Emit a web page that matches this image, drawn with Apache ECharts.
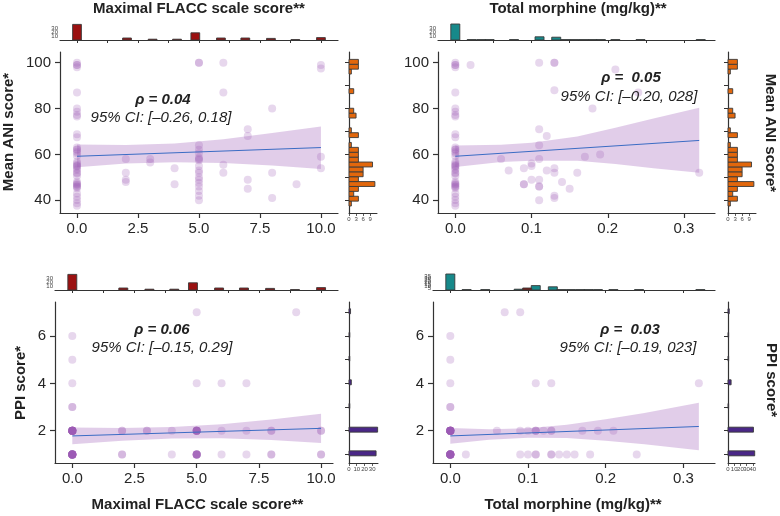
<!DOCTYPE html>
<html><head><meta charset="utf-8">
<script src="https://cdn.jsdelivr.net/npm/echarts@6/dist/echarts.min.js"></script>
<style>html,body{margin:0;padding:0;background:#fff}#c{width:780px;height:516px}</style>
</head><body><div id="c"></div>
<script>
// ================= DATA =================
// ANI values of patients with x = 0 (FLACC 0 / morphine 0)
const aniAtZero = [100,99,99,98,87,80,78.6,77.2,76.5,68.8,67.5,63,62.2,62,61.2,60.5,59.3,56.8,56.1,55.4,55,54.7,53.9,53.2,52,51.7,50.6,48.1,47.4,47,46.7,46,45.9,45.2,43,41.6,40.1,38.7,37.6];
const flaccAniOther = [[2,58],[2,52],[2,49],[2,48],[3,58],[3,56.5],[4,54],[4,47],
  [5,100],[5,100],[5,64],[5,62],[5,60.5],[5,58.5],[5,58],[5,57.5],[5,55],[5,53],[5,52],[5,50],[5,49],[5,47.5],[5,46],[5,44],[5,42],[5,40],
  [6,100],[6,87],[6,55.5],[6,52],[7,71],[7,68],[7,49],[7,45],[8,80],[8,52],[8,41],[9,47],[10,99],[10,97.5],[10,59],[10,54]];
const morphAniOther = [[0.02,99],[0.11,100],[0.13,100],[0.13,100],[0.21,97],[0.13,88],[0.24,87],[0.18,80],[0.11,71],[0.12,68],[0.11,64],
  [0.06,58],[0.11,58],[0.17,59],[0.19,60],[0.07,53],[0.09,54],[0.10,56],[0.10,55],[0.12,53],[0.13,54],[0.13,52],[0.16,52],
  [0.10,49],[0.11,49],[0.09,47],[0.09,47],[0.11,46],[0.11,46],[0.14,48],[0.15,45],[0.11,40],[0.13,42],[0.13,41],[0.32,52]];
// PPI values of patients with x = 0
const ppiAtZero = [6,5,4,3,3,2,2,2,2,2,2,2,2,2,2,2,2,2,2,2,2,2,1,1,1,1,1,1,1,1,1,1,1,1,1,1,1,1,1];
const flaccPpiOther = [[2,2],[2,2],[2,1],[2,1],[3,2],[3,2],[4,2],[4,1],[5,7],[5,4],
  [5,2],[5,2],[5,2],[5,2],[5,2],[5,2],[5,2],[5,2],[5,1],[5,1],[5,1],[5,1],[5,1],[5,1],[5,1],[5,1],
  [6,4],[6,2],[6,1],[7,4],[7,2],[7,1],[8,2],[8,2],[8,1],[8,1],[9,7],[10,2],[10,2],[10,1],[10,1]];
const morphPpiOther = [[0.02,1],[0.06,2],[0.07,7],[0.09,7],[0.09,2],[0.09,1],[0.10,2],[0.10,1],
  [0.11,4],[0.11,2],[0.11,2],[0.11,2],[0.11,1],[0.11,1],[0.12,2],[0.13,4],[0.13,2],[0.13,2],[0.13,1],[0.13,1],
  [0.14,1],[0.15,1],[0.16,1],[0.17,2],[0.18,1],[0.19,2],[0.21,2],[0.24,1],[0.32,4]];

// regression lines and 95% CI bands
const regFlaccAni = [[0,59.2],[10,63.0]];
const bandFlaccAniX  = [0,2,4,6,8,10];
const bandFlaccAniLo = [54.4,56.0,56.6,56.3,55.2,53.6];
const bandFlaccAniHi = [64.3,64.1,64.8,66.6,69.3,72.2];
const regMorphAni = [[0,59.2],[0.32,66.1]];
const bandMorphAniX  = [0,0.06,0.1,0.16,0.21,0.26,0.32];
const bandMorphAniLo = [54.5,56.7,57.3,57.3,55.8,54.0,52.0];
const bandMorphAniHi = [63.9,64.2,65.1,67.8,71.6,75.7,80.4];
const regFlaccPpi = [[0,1.78],[10,2.1]];
const bandFlaccPpiX  = [0,2,4,6,8,10];
const bandFlaccPpiLo = [1.43,1.58,1.67,1.68,1.61,1.48];
const bandFlaccPpiHi = [2.14,2.11,2.16,2.27,2.47,2.72];
const regMorphPpi = [[0,1.78],[0.32,2.18]];
const bandMorphPpiX  = [0,0.05,0.1,0.15,0.2,0.25,0.32];
const bandMorphPpiLo = [1.45,1.62,1.70,1.69,1.58,1.43,1.18];
const bandMorphPpiHi = [2.11,2.06,2.10,2.25,2.48,2.75,3.18];

// marginal histograms
const flaccHistCenters = [0,2.05,3.1,4.1,4.85,5.9,6.9,7.95,8.95,10];
const flaccHistCounts  = [39,5,2,2,18,5,5,4,1,6];
const morphHistCentersTop = [0,0.0215,0.034,0.045,0.077,0.1105,0.1324,0.1442,0.156,0.168,0.18,0.191,0.21,0.243,0.322];
const morphHistCountsTop  = [40,1,1,1,1,8,7,1,1,1,1,1,1,1,1];
const morphHistCentersBot = [0,0.021,0.045,0.088,0.11,0.132,0.143,0.155,0.167,0.178,0.19,0.21,0.243,0.322];
const morphHistCountsBot  = [40,1,1,2,11,8,1,1,1,1,1,1,1,1];
const morphHistRedCenters = [0.099];
const morphHistRedCounts  = [5];
const aniBinStart = 37.5, aniBinWidth = 2.1317;
const aniHistCounts = [1,4,2,4,11,4,6,6,10,4,4,4,1,0,4,1,0,0,3,2,0,0,0,2,0,0,0,1,4,4];
const ppiHistValues = [1,2,3,4,5,6,7];
const ppiHistCountsLeft  = [35,37,1,3,1,1,2];
const ppiHistCountsRight = [43,41,1,5,1,1,2];

// tick labels
const flaccTicks = [0,2.5,5,7.5,10];
const flaccHistTicks = [0,1.25,2.5,3.75,5,6.25,7.5,8.75,10];
const morphTicks = [0,0.1,0.2,0.3];
const morphHistTicks = [0,0.05,0.1,0.15,0.2,0.25,0.3];
const aniTicks = [40,60,80,100];
const aniMinorTicks = [40,50,60,70,80,90,100];
const ppiTicks = [2,4,6];
const ppiMinorTicks = [1,2,3,4,5,6,7];

// texts
const titleFlacc = 'Maximal FLACC scale score**';
const titleMorph = 'Total morphine (mg/kg)**';
const nameAni = 'Mean ANI score*';
const namePpi = 'PPI score*';
const rhoTexts = ['ρ = 0.04','ρ =  0.05','ρ = 0.06','ρ =  0.03'];
const ciTexts = ['95% CI: [–0.26, 0.18]','95% CI: [–0.20, 028]','95% CI: [–0.15, 0.29]','95% CI: [–0.19, 023]'];

// ================= CHART =================
const FONT = '"Liberation Sans", Arial, Helvetica, sans-serif';
const AX = '#333';
const PT = 'rgba(155,89,182,0.3)';
const BAND = 'rgba(155,89,182,0.3)';
const grids = [], xAxes = [], yAxes = [], series = [];

function grid(l,t,w,h){ grids.push({left:l,top:t,width:w,height:h,containLabel:false,outerBoundsMode:'none'}); return grids.length-1; }

function mainPanel(rect, xr, xt, xdec, yr, yt, pts, reg, bx, lo, hi){
  const gi = grid(...rect);
  xAxes.push({gridIndex:gi,type:'value',min:xr[0],max:xr[1],splitLine:{show:false},
    axisLine:{show:true,onZero:false,lineStyle:{color:AX,width:1.2}},
    axisTick:{show:true,length:5,customValues:xt,lineStyle:{color:AX,width:1.2}},
    axisLabel:{customValues:xt,formatter:v=>Number(v).toFixed(xdec),fontSize:15,color:'#262626',fontFamily:FONT,margin:8}});
  yAxes.push({gridIndex:gi,type:'value',min:yr[0],max:yr[1],splitLine:{show:false},
    axisLine:{show:true,onZero:false,lineStyle:{color:AX,width:1.2}},
    axisTick:{show:true,length:5,customValues:yt,lineStyle:{color:AX,width:1.2}},
    axisLabel:{customValues:yt,formatter:v=>String(Math.round(v)),fontSize:15,color:'#262626',fontFamily:FONT,margin:9}});
  series.push({type:'custom',xAxisIndex:gi,yAxisIndex:gi,z:1,silent:true,data:[[bx[0],lo[0]]],
    renderItem:(p,api)=>{
      const poly=[];
      for(let i=0;i<bx.length;i++) poly.push(api.coord([bx[i],hi[i]]));
      for(let i=bx.length-1;i>=0;i--) poly.push(api.coord([bx[i],lo[i]]));
      return {type:'polygon',shape:{points:poly},style:{fill:BAND}};
    }});
  series.push({type:'scatter',xAxisIndex:gi,yAxisIndex:gi,z:2,silent:true,symbolSize:8,data:pts,
    itemStyle:{color:PT,borderWidth:0}});
  series.push({type:'line',xAxisIndex:gi,yAxisIndex:gi,z:3,silent:true,symbol:'none',data:reg,
    lineStyle:{color:'#3b6cc4',width:1}});
}

function topHist(rect, xr, ticks, ymax, yint){
  const gi = grid(...rect);
  xAxes.push({gridIndex:gi,type:'value',min:xr[0],max:xr[1],splitLine:{show:false},
    axisLine:{show:true,onZero:false,lineStyle:{color:AX,width:1.2}},
    axisTick:{show:true,length:3,customValues:ticks,lineStyle:{color:AX,width:1}},
    axisLabel:{show:false}});
  yAxes.push({gridIndex:gi,type:'value',min:0,max:ymax,interval:yint,splitLine:{show:false},
    axisLine:{show:false},
    axisTick:{show:true,length:3,lineStyle:{color:AX,width:0.8}},
    axisLabel:{fontSize:6,color:'#444',fontFamily:FONT,margin:2,lineHeight:6}});
  return gi;
}
function vBars(gi, centers, counts, w, color){
  const d = centers.map((c,i)=>[c,counts[i]]).filter(d=>d[1]>0);
  series.push({type:'custom',xAxisIndex:gi,yAxisIndex:gi,z:2,silent:true,data:d,encode:{x:0,y:1},
    renderItem:(p,api)=>{
      const c=api.value(0), n=api.value(1);
      const a=api.coord([c-w/2,n]), b=api.coord([c+w/2,0]);
      return {type:'rect',shape:{x:a[0],y:a[1],width:b[0]-a[0],height:b[1]-a[1]},
        style:{fill:color,stroke:'#3a3a3a',lineWidth:0.9}};
    }});
}
function rightHist(rect, yr, yticks, xmax, xint){
  const gi = grid(...rect);
  xAxes.push({gridIndex:gi,type:'value',min:0,max:xmax,interval:xint,splitLine:{show:false},
    axisLine:{show:true,onZero:false,lineStyle:{color:AX,width:1}},
    axisTick:{show:true,length:3,lineStyle:{color:AX,width:0.8}},
    axisLabel:{fontSize:6,color:'#444',fontFamily:FONT,margin:3}});
  yAxes.push({gridIndex:gi,type:'value',min:yr[0],max:yr[1],splitLine:{show:false},
    axisLine:{show:true,onZero:false,lineStyle:{color:AX,width:1.2}},
    axisTick:{show:true,length:4,customValues:yticks,lineStyle:{color:AX,width:1}},
    axisLabel:{show:false}});
  return gi;
}
function hBars(gi, bins, color){
  series.push({type:'custom',xAxisIndex:gi,yAxisIndex:gi,z:2,silent:true,data:bins.filter(b=>b[2]>0),encode:{x:2,y:[0,1]},
    renderItem:(p,api)=>{
      const y0=api.value(0), y1=api.value(1), n=api.value(2);
      const a=api.coord([n,y1]), b=api.coord([0,y0]);
      return {type:'rect',shape:{x:b[0],y:a[1],width:a[0]-b[0],height:b[1]-a[1]},
        style:{fill:color,stroke:'#3a3a3a',lineWidth:0.9}};
    }});
}

const aniRange = [34.46,104.67], ppiRange = [0.637,7.436];
const aniBins = aniHistCounts.map((n,k)=>[aniBinStart+k*aniBinWidth, aniBinStart+(k+1)*aniBinWidth, n]);
const ppiBinsL = ppiHistValues.map((v,i)=>[v-0.06, v+0.15, ppiHistCountsLeft[i]]);
const ppiBinsR = ppiHistValues.map((v,i)=>[v-0.06, v+0.15, ppiHistCountsRight[i]]);

const RED='#9b1111', TEAL='#17898a', ORANGE='#e2670c', PURPLE='#4a2787';

// Top-left: FLACC vs ANI
mainPanel([60,52,278,161],[-0.697,10.70],flaccTicks,1,aniRange,aniTicks,
  aniAtZero.map(v=>[0,v]).concat(flaccAniOther),regFlaccAni,bandFlaccAniX,bandFlaccAniLo,bandFlaccAniHi);
let g = topHist([60,24,278,16],[-0.697,10.70],flaccHistTicks,40,10);
vBars(g,flaccHistCenters,flaccHistCounts,0.36,RED);
g = rightHist([349,52,28,161],aniRange,aniMinorTicks,11.9,3);
hBars(g,aniBins,ORANGE);

// Top-right: morphine vs ANI
mainPanel([438,52,277,161],[-0.0227,0.3407],morphTicks,1,aniRange,aniTicks,
  aniAtZero.map(v=>[0,v]).concat(morphAniOther),regMorphAni,bandMorphAniX,bandMorphAniLo,bandMorphAniHi);
g = topHist([438,24,277,16],[-0.0227,0.3407],morphHistTicks,40,10);
vBars(g,morphHistCentersTop,morphHistCountsTop,0.0118,TEAL);
g = rightHist([728,52,28,161],aniRange,aniMinorTicks,11.9,3);
hBars(g,aniBins,ORANGE);

// Bottom-left: FLACC vs PPI
mainPanel([55,302,278,161],[-0.696,10.48],flaccTicks,1,ppiRange,ppiTicks,
  ppiAtZero.map(v=>[0,v]).concat(flaccPpiOther),regFlaccPpi,bandFlaccPpiX,bandFlaccPpiLo,bandFlaccPpiHi);
g = topHist([55,274,283,16],[-0.696,10.68],flaccHistTicks,40,10);
vBars(g,flaccHistCenters,flaccHistCounts,0.36,RED);
g = rightHist([349,302,29,161],ppiRange,ppiMinorTicks,37.5,10);
hBars(g,ppiBinsL,PURPLE);

// Bottom-right: morphine vs PPI
mainPanel([433,302,282,161],[-0.0223,0.3408],morphTicks,1,ppiRange,ppiTicks,
  ppiAtZero.map(v=>[0,v]).concat(morphPpiOther),regMorphPpi,bandMorphPpiX,bandMorphPpiLo,bandMorphPpiHi);
g = topHist([433,274,282,16],[-0.0223,0.3408],morphHistTicks,40,5);
vBars(g,morphHistCentersBot,morphHistCountsBot,0.0116,TEAL);
vBars(g,morphHistRedCenters,morphHistRedCounts,0.0116,'#7a1a14');
g = rightHist([728,302,27,161],ppiRange,ppiMinorTicks,43.5,10);
hBars(g,ppiBinsR,PURPLE);

function txt(t,x,y,opt){
  return {type:'text',x:x,y:y,silent:true,z:50,
    style:Object.assign({text:t,align:'center',verticalAlign:'middle',fill:'#222',fontFamily:FONT,fontSize:15},opt||{})};
}
function rot(t,x,y,r){ const e=txt(t,x,y,{fontWeight:'bold'}); e.rotation=r; return e; }
const graphic = [
  txt(titleFlacc,199,9,{fontWeight:'bold'}),
  txt(titleMorph,578,9,{fontWeight:'bold'}),
  txt(titleFlacc,197.5,505,{fontWeight:'bold'}),
  txt(titleMorph,573,505,{fontWeight:'bold'}),
  rot(nameAni,9,132,Math.PI/2),
  rot(namePpi,21,383,Math.PI/2),
  rot(nameAni,770,133,-Math.PI/2),
  rot(namePpi,771,380,-Math.PI/2),
  txt(rhoTexts[0],163,100,{fontWeight:'bold',fontStyle:'italic'}),
  txt(ciTexts[0],161,118,{fontStyle:'italic'}),
  txt(rhoTexts[1],631,78,{fontWeight:'bold',fontStyle:'italic'}),
  txt(ciTexts[1],629,97,{fontStyle:'italic'}),
  txt(rhoTexts[2],162,330,{fontWeight:'bold',fontStyle:'italic'}),
  txt(ciTexts[2],162,348,{fontStyle:'italic'}),
  txt(rhoTexts[3],630,330,{fontWeight:'bold',fontStyle:'italic'}),
  txt(ciTexts[3],628,348,{fontStyle:'italic'})
];

const chart = echarts.init(document.getElementById('c'),null,{renderer:'canvas'});
chart.setOption({animation:false,backgroundColor:'#fff',grid:grids,xAxis:xAxes,yAxis:yAxes,series:series,graphic:graphic});
</script>
</body></html>
